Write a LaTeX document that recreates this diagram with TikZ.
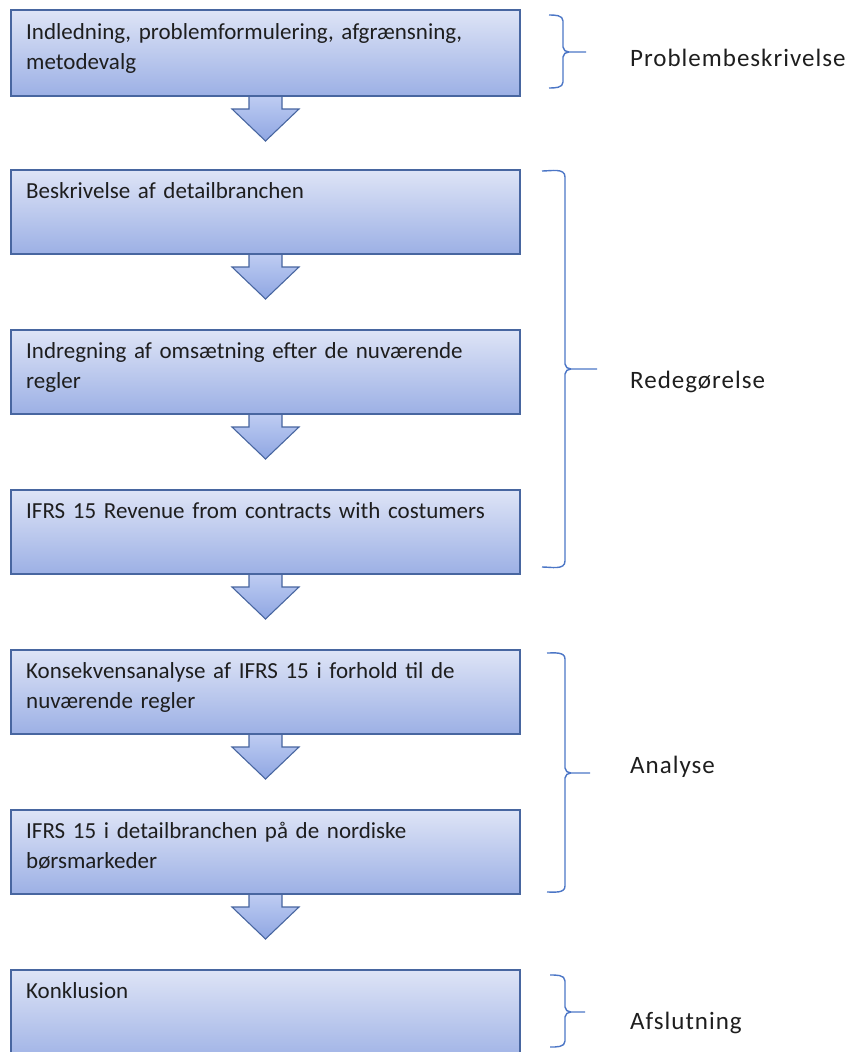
\documentclass[tikz,border=0pt]{standalone}
\usepackage{fontspec}
\setmainfont{Carlito}
\newfontfamily\labelfont[LetterSpace=4]{Carlito}
\usetikzlibrary{calc,backgrounds}
\definecolor{boxtop}{RGB}{222,228,246}
\definecolor{boxbot}{RGB}{156,176,229}
\definecolor{boxline}{RGB}{72,102,160}
\definecolor{arrtop}{RGB}{192,206,243}
\definecolor{arrbot}{RGB}{143,166,226}
\definecolor{bracec}{RGB}{76,118,198}
\definecolor{txtc}{RGB}{30,30,30}
\begin{document}
\begin{tikzpicture}[x=1pt,y=-1pt,
  flowbox/.style={draw=boxline, line width=1.2pt, top color=boxtop, bottom color=boxbot,
    minimum width=509pt, minimum height=84pt, anchor=north west, inner sep=0pt, outer sep=0pt},
  boxtext/.style={anchor=base west, inner sep=0pt, text width=490pt, align=left,
    font=\fontsize{23}{30.5}\selectfont, text=txtc},
  sidelabel/.style={anchor=base west, inner sep=0pt, font=\labelfont\fontsize{25}{30}\selectfont, text=txtc},
  blockarr/.style={draw=boxline, line width=1.1pt, top color=arrtop, bottom color=arrbot, line join=miter},
  bracepath/.style={draw=bracec, line width=1.4pt}]
\useasboundingbox (0,0) rectangle (845,1052);
\clip (0,0) rectangle (845,1052);

% boxes
\node[flowbox, minimum height=86pt] (b1) at (11,10) {};
\node[flowbox] (b2) at (11,170) {};
\node[flowbox] (b3) at (11,330) {};
\node[flowbox] (b4) at (11,490) {};
\node[flowbox] (b5) at (11,650) {};
\node[flowbox] (b6) at (11,810) {};
\node[flowbox, minimum height=95pt] (b7) at (11,970) {};

% texts
\node[boxtext] (t1) at ($(b1.north west)+(15,29)$) {Indledning, problemformulering, afgrænsning,\\metodevalg};
\node[boxtext] (t2) at ($(b2.north west)+(15,28)$) {Beskrivelse af detailbranchen};
\node[boxtext] (t3) at ($(b3.north west)+(15,28)$) {Indregning af omsætning efter de nuværende\\regler};
\node[boxtext] (t4) at ($(b4.north west)+(15,28)$) {IFRS 15 Revenue from contracts with costumers};
\node[boxtext] (t5) at ($(b5.north west)+(15,28)$) {Konsekvensanalyse af IFRS 15 i forhold til de\\nuværende regler};
\node[boxtext] (t6) at ($(b6.north west)+(15,28)$) {IFRS 15 i detailbranchen på de nordiske\\børsmarkeder};
\node[boxtext] (t7) at ($(b7.north west)+(15,28)$) {Konklusion};

% block arrows between boxes
\begin{scope}[on background layer]
\foreach \a/\b in {b1/a1,b2/a2,b3/a3,b4/a4,b5/a5,b6/a6}{
  \draw[blockarr] ($(\a.south)+(-16.5,-2)$) -- ++(0,15) -- ++(-17,0)
    -- ($(\a.south)+(0,45)$) -- ($(\a.south)+(33.5,13)$) -- ++(-17,0) -- ++(0,-15);
}
\end{scope}

% braces
\foreach \xt/\xv/\ya/\yb/\ym/\xm/\nm in {549/563/15/88/52/586/p1,542/565/171/567/369/597/p2,547/565/653/892/773/590/p3,550/565/975/1047/1012/585/p4}{
  \coordinate (\nm top) at (\xt,\ya);
  \coordinate (\nm bot) at (\xt,\yb);
  \coordinate (\nm tip) at (\xm,\ym);
  \draw[bracepath] (\nm top) to[out=0,in=90] (\xv,\ya+6) -- (\xv,\ym-5)
     to[out=-90,in=180] (\xv+6,\ym) -- (\nm tip);
  \draw[bracepath] (\xv+6,\ym) to[out=180,in=90] (\xv,\ym+5) -- (\xv,\yb-6)
     to[out=-90,in=0] (\nm bot);
}

% labels
\node[sidelabel] (l1) at (630,66) {Problembeskrivelse};
\node[sidelabel] (l2) at (630,388) {Redegørelse};
\node[sidelabel] (l3) at (630,773) {Analyse};
\node[sidelabel] (l4) at (630,1029) {Afslutning};
\end{tikzpicture}
\end{document}
